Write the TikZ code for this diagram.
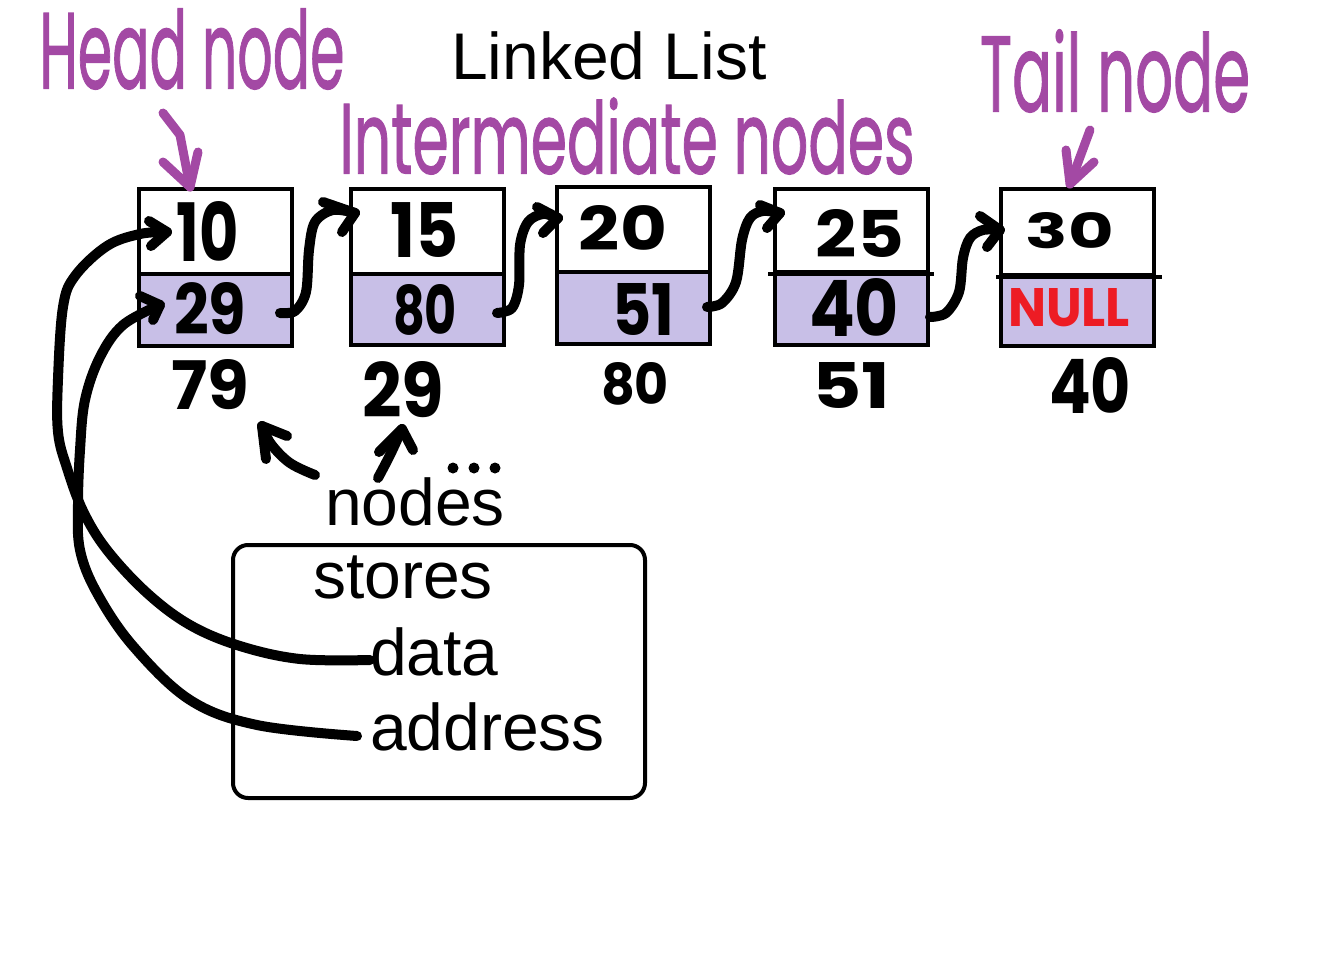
\documentclass[tikz,border=0pt]{standalone}
\usepackage{fontspec}
\setmainfont{Liberation Sans}
\newfontfamily\hand{Poppins}
\newfontfamily\handp{Poppins}[FakeBold=1.2]
\usetikzlibrary{calc}
\definecolor{lav}{HTML}{C8BFE7}
\definecolor{ppl}{HTML}{A349A4}
\definecolor{nullred}{HTML}{ED1C24}
\newcommand\hw[3]{\resizebox{#1pt}{#2pt}{\hand\bfseries #3}}
\newcommand\hwp[3]{\resizebox{#1pt}{#2pt}{\handp #3}}
\tikzset{
  x=1pt,y=-1pt,
  pen/.style={line width=10pt,line cap=round,line join=round},
  ppen/.style={ppl,line width=9pt,line cap=round,line join=round},
  cell/.style={draw,line width=4pt,minimum width=153pt,inner sep=0pt,fill=white},
  acell/.style={cell,fill=lav},
  lbl/.style={inner sep=0pt,anchor=center},
  sans/.style={inner sep=0pt,anchor=base west,font=\fontsize{66}{70}\selectfont},
}
\begin{document}
\begin{tikzpicture}
\useasboundingbox (0,0) rectangle (1329,968);
% cells
\node[acell,minimum height=72pt] (a1) at (215.5,310) {};
\node[cell,minimum height=85pt] (d1) at (215.5,231.5) {};
\node[acell,minimum height=71pt] (a2) at (427,309.5) {};
\node[cell,minimum height=85pt] (d2) at (427,231.5) {};
\node[acell,minimum height=72pt] (a3) at (633.5,308) {};
\node[cell,minimum height=85pt] (d3) at (633.5,229.5) {};
\node[acell,minimum height=73pt] (a4) at (851.5,308.5) {};
\node[cell,minimum height=83pt] (d4) at (851.5,230.5) {};
\node[acell,minimum height=71pt] (a5) at (1077.5,310.5) {};
\node[cell,minimum height=86pt] (d5) at (1077.5,232) {};
\draw[line width=4pt] ($(d4.south west)+(-5,0)$) -- ($(d4.south east)+(4,0)$);
\draw[line width=4pt] ($(d5.south west)+(-3,0)$) -- ($(d5.south east)+(6,0)$);

% handwritten values
\node[lbl] (v10) at (208,231) {\hw{62}{60}{10}};
\node[lbl] (v29a) at (210,309) {\hw{72}{52}{29}};
\node[lbl] (v79) at (210,385) {\hw{78}{50}{79}};
\node[lbl] (v15) at (425,230) {\hw{68}{55}{15}};
\node[lbl] (v80a) at (425,310) {\hw{64}{50}{80}};
\node[lbl] (v29b) at (403,390) {\hw{82}{56}{29}};
\node[lbl] (v20) at (623,228) {\hw{88}{45}{20}};
\node[lbl] (v51a) at (643,309) {\hw{62}{52}{51}};
\node[lbl] (v80b) at (635,384) {\hw{68}{42}{80}};
\node[lbl] (v25) at (860,233) {\hw{88}{48}{25}};
\node[lbl] (v40a) at (854,307) {\hw{90}{58}{40}};
\node[lbl] (v51b) at (851,385) {\hw{78}{46}{51}};
\node[lbl] (v30) at (1070,231) {\hw{88}{36}{30}};
\node[lbl,nullred] (vnull) at (1069,308) {\hw{122}{38}{NULL}};
\node[lbl] (v40b) at (1090,385) {\hw{82}{56}{40}};

% purple labels
\node[lbl,ppl] (head) at (192,49) {\hwp{305}{80}{Head node}};
\node[lbl,ppl] (inter) at (627,136) {\hwp{575}{76}{Intermediate nodes}};
\node[lbl,ppl] (tail) at (1115,71) {\hwp{270}{82}{Tail node}};
\coordinate (hs) at (163,113);
\coordinate (ht) at (190,187);
\draw[ppen] (hs) -- (180,135) -- (ht);
\draw[ppen] (163,162) -- (ht) -- (198,152);
\coordinate (ts) at (1090,130);
\coordinate (tt) at (1070,184);
\draw[ppen] (ts) -- (tt);
\draw[ppen] (1066,150) -- (tt) -- (1094,162);

% title and texts
\node[sans] (title) at (451,80) {Linked List};
\node[sans] (tnodes) at (325,525) {nodes};
\node[draw,line width=4pt,rounded corners=15pt,minimum width=412pt,minimum height=253pt] (store) at (439,671.5) {};
\node[sans] (tstores) at (313,598) {stores};
\node[sans] (tdata) at (370,675) {data};
\node[sans] (taddr) at (370,750) {address};
\foreach \i/\x in {1/453,2/474,3/495} \fill (\x,468) circle (5.5pt) coordinate (dot\i);

% connectors between cells
\coordinate (s12) at (280,313); \coordinate (e12) at (355,213);
\draw[pen] plot[smooth,tension=0.55] coordinates {(s12) (295,311) (306,292) (309,250) (315,222) (333,210) (e12)};
\draw[pen] (323,202) -- (e12) -- (342,232);
\coordinate (s23) at (497,313); \coordinate (e23) at (558,218);
\draw[pen] plot[smooth,tension=0.55] coordinates {(s23) (512,308) (519,285) (520,245) (528,222) (543,214) (e23)};
\draw[pen] (537,207) -- (e23) -- (543,233);
\coordinate (s34) at (707,307); \coordinate (e34) at (780,213);
\draw[pen] plot[smooth,tension=0.55] coordinates {(s34) (722,303) (736,282) (742,240) (750,218) (763,211) (e34)};
\draw[pen] (760,205) -- (e34) -- (767,228);
\coordinate (s45) at (930,317); \coordinate (e45) at (1000,230);
\draw[pen] plot[smooth,tension=0.55] coordinates {(s45) (946,313) (959,292) (963,258) (970,238) (983,230) (e45)};
\draw[pen] (980,216) -- (e45) -- (987,247);

% curves from the box texts
\coordinate (sd) at (370,660); \coordinate (ed) at (167,232);
\draw[pen] plot[smooth,tension=0.6] coordinates {(sd) (300,659) (240,646) (190,625) (147,593) (107,550) (83,511) (67,468) (58,432) (58,379) (63,307) (75,276) (107,246) (140,234) (ed)};
\draw[pen] (149,221) -- (ed) -- (151,246);
\coordinate (sa) at (357,736); \coordinate (ea) at (160,305);
\draw[pen] plot[smooth,tension=0.6] coordinates {(sa) (257,725) (190,700) (133,646) (97,593) (80,550) (78,504) (80,450) (85,400) (100,357) (123,325) (ea)};
\draw[pen] (140,296) -- (ea) -- (153,320);

% small arrows to addresses
\coordinate (sn1) at (315,475); \coordinate (en1) at (262,426);
\draw[pen] plot[smooth,tension=0.6] coordinates {(sn1) (290,463) (271,444) (en1)};
\draw[pen] (287,436) -- (en1) -- (266,459);
\coordinate (sn2) at (378,478); \coordinate (en2) at (402,429);
\draw[pen] plot[smooth,tension=0.6] coordinates {(sn2) (390,455) (en2)};
\draw[pen] (379,452) -- (en2) -- (413,450);
\end{tikzpicture}
\end{document}
